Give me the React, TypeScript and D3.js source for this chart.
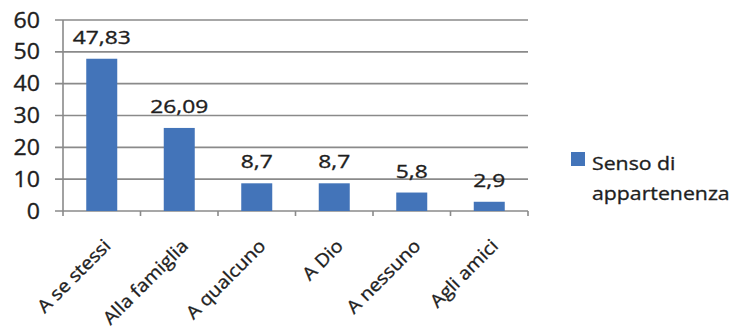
import React from "react";
import * as d3 from "d3";

const categories = ["A se stessi", "Alla famiglia", "A qualcuno", "A Dio", "A nessuno", "Agli amici"];
const values = [47.83, 26.09, 8.7, 8.7, 5.8, 2.9];
const valueLabels = ["47,83", "26,09", "8,7", "8,7", "5,8", "2,9"];
const yTicks = [0, 10, 20, 30, 40, 50, 60];
const seriesName = ["Senso di", "appartenenza"];

const W = 736, H = 334;
const left = 63, right = 528, top = 20, bottom = 211;
const FONT = "'Open Sans', sans-serif";

export default function App() {
  const x = d3.scaleBand<string>().domain(categories).range([left, right]).paddingInner(0.6).paddingOuter(0.3);
  const xb = d3.scaleBand<string>().domain(categories).range([left, right]);
  const y = d3.scaleLinear().domain([0, 60]).range([bottom, top]);
  const grid = "#8a8a8a";
  const barColor = "#4374b9";
  const txt = "#1e1e1e";
  const textStyle = { stroke: txt, strokeWidth: 0.35 };
  return (
    <svg width={W} height={H} style={{ position: "absolute", left: 0, top: 0, background: "#fff" }}>
      {yTicks.map((t) => (
        <g key={t}>
          <line x1={55} x2={right} y1={y(t)} y2={y(t)} stroke={grid} strokeWidth={1.6} />
          <text transform={`translate(40,${y(t) + 7.5}) scale(1.1,1)`} textAnchor="end" fontFamily={FONT} fontSize={21} fill={txt} style={textStyle}>{t}</text>
        </g>
      ))}
      <line x1={left} x2={left} y1={top} y2={bottom + 5} stroke={grid} strokeWidth={1.6} />
      {categories.map((c) => (
        <line key={c} x1={xb(c)! + xb.bandwidth()} x2={xb(c)! + xb.bandwidth()} y1={bottom} y2={bottom + 5} stroke={grid} strokeWidth={1.6} />
      ))}
      {categories.map((c, i) => (
        <rect key={c} x={x(c)} width={x.bandwidth()} y={y(values[i])} height={y(0) - y(values[i])} fill={barColor} />
      ))}
      {categories.map((c, i) => (
        <text key={c} transform={`translate(${x(c)! + x.bandwidth() / 2},${y(values[i]) - 15}) scale(1.2,1)`} textAnchor="middle" fontFamily={FONT} fontSize={19} fill={txt} style={textStyle}>{valueLabels[i]}</text>
      ))}
      {categories.map((c, i) => (
        <text key={c} transform={`translate(${x(c)! + x.bandwidth() / 2 + 10},${bottom + 36}) rotate(-45) scale(1.1,1)`} textAnchor="end" fontFamily={FONT} fontSize={18} fill={txt} style={textStyle}>{c}</text>
      ))}
      <rect x={571} y={152} width={14} height={14} fill={barColor} />
      <text transform={`translate(592,170) scale(1.12,1)`} fontFamily={FONT} fontSize={19} fill={txt} style={textStyle}>{seriesName[0]}</text>
      <text transform={`translate(592,200) scale(1.12,1)`} fontFamily={FONT} fontSize={19} fill={txt} style={textStyle}>{seriesName[1]}</text>
    </svg>
  );
}
